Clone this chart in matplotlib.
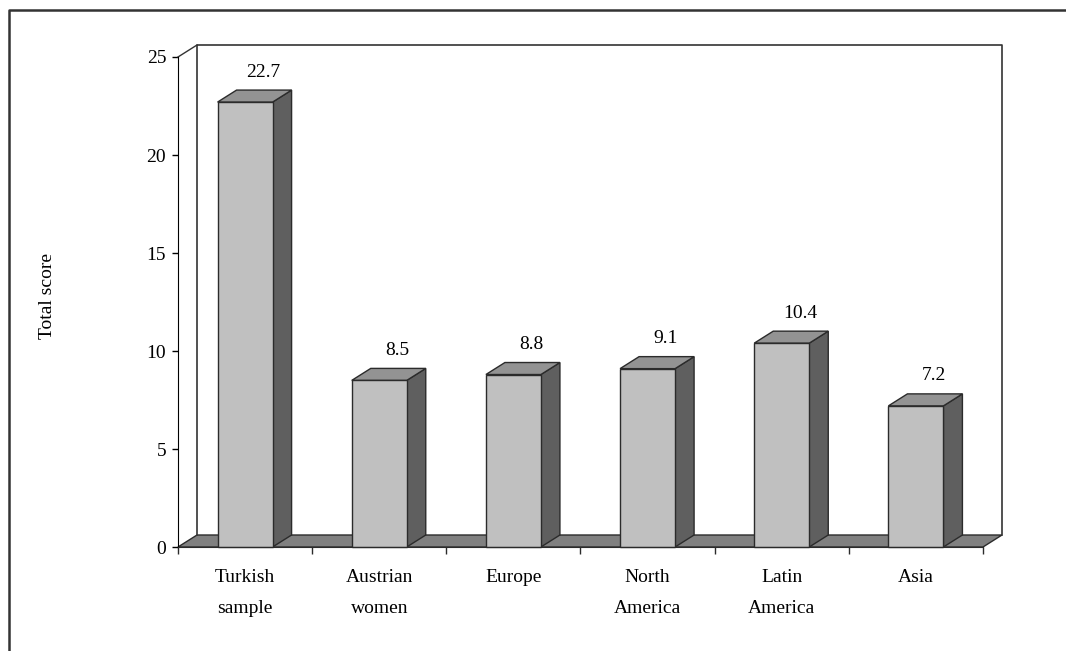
import matplotlib.pyplot as plt
import numpy as np
from matplotlib.patches import Polygon
from matplotlib.lines import Line2D

plt.rcParams['font.family'] = ['Liberation Serif', 'DejaVu Serif']

categories = ['Turkish\nsample', 'Austrian\nwomen', 'Europe', 'North\nAmerica', 'Latin\nAmerica', 'Asia']
scores = [22.7, 8.5, 8.8, 9.1, 10.4, 7.2]
yticks = [0, 5, 10, 15, 20, 25]

W, H = 1066, 651
fs = 14
fig = plt.figure(figsize=(W / 100, H / 100), dpi=100)

# front plane of the 3-d box, in pixels
x0, x1 = 178, 983
y0, y1 = 547, 57
ax = fig.add_axes([x0 / W, 1 - y0 / H, (x1 - x0) / W, (y0 - y1) / H])
n = len(categories)
ax.set_xlim(0, n)
ax.set_ylim(0, 25)

# depth offset converted to data units (19 px right, 12 px up)
dx = 19 / ((x1 - x0) / n)
dy = 12 / ((y0 - y1) / 25)
ymax = 25

edge = '#2b2b2b'
lw = 1.0

# back wall outline and left wall diagonal
ax.add_line(Line2D([dx, dx, n + dx, n + dx], [dy, ymax + dy, ymax + dy, dy],
                   color='#333333', lw=1.2, clip_on=False))
ax.add_line(Line2D([0, dx], [ymax, ymax + dy], color='#333333', lw=1.0, clip_on=False))

# floor
ax.add_patch(Polygon([(0, 0), (n, 0), (n + dx, dy), (dx, dy)], closed=True,
                     facecolor='#808080', edgecolor=edge, lw=lw, clip_on=False))

# bars
bw = 0.41
for i, v in enumerate(scores):
    c = i + 0.5
    l, r = c - bw / 2, c + bw / 2
    ax.add_patch(Polygon([(r, 0), (r + dx, dy), (r + dx, v + dy), (r, v)], closed=True,
                         facecolor='#5f5f5f', edgecolor=edge, lw=lw, clip_on=False))
    ax.add_patch(Polygon([(l, v), (r, v), (r + dx, v + dy), (l + dx, v + dy)], closed=True,
                         facecolor='#939393', edgecolor=edge, lw=lw, clip_on=False))
    ax.add_patch(Polygon([(l, 0), (r, 0), (r, v), (l, v)], closed=True,
                         facecolor='#c0c0c0', edgecolor=edge, lw=lw, clip_on=False))
    ax.annotate(f'{v}', xy=(c + dx * 0.95, v + dy), xytext=(0, 13),
                textcoords='offset points', ha='center', va='center', fontsize=fs)

for s in ['top', 'right']:
    ax.spines[s].set_visible(False)
ax.spines['left'].set_color('black')
ax.spines['bottom'].set_color(edge)
ax.patch.set_visible(False)

ax.set_yticks(yticks)
ax.tick_params(axis='y', direction='out', length=4.5, width=1, pad=4, labelsize=fs)

# tick marks on category boundaries, labels at centres
ax.set_xticks(np.arange(n + 1))
ax.set_xticklabels([])
ax.set_xticks(np.arange(n) + 0.5, minor=True)
ax.set_xticklabels(categories, minor=True, fontsize=fs, linespacing=2.05)
ax.tick_params(axis='x', which='major', direction='out', length=5, width=1, color=edge)
ax.tick_params(axis='x', which='minor', length=0, pad=16)

fig.text(48 / W, 1 - 296 / H, 'Total score', rotation=90, ha='center', va='center', fontsize=fs)

# outer frame
fig.add_artist(Line2D([9 / W, 9 / W, 1.0], [0.0, 1 - 9.5 / H, 1 - 9.5 / H],
                      transform=fig.transFigure, color='#333333', lw=1.8))

fig.savefig('out.png', dpi=100)
